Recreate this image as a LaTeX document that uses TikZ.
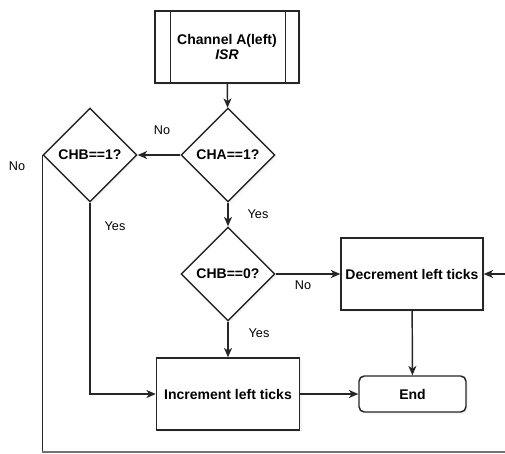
\documentclass[tikz,border=0pt]{standalone}
\usepackage{fontspec}
\setmainfont{Liberation Sans}
\usetikzlibrary{shapes.geometric,arrows.meta,shadows}
\begin{document}
\begin{tikzpicture}[x=0.75pt,y=-0.75pt,
  every node/.style={font=\fontsize{10.5}{12}\selectfont},
  line/.style={draw=black!85,line width=1.1pt},
  flow/.style={line,-{Stealth[length=7pt,width=6pt,inset=2pt]}},
  softshadow/.style={drop shadow={shadow xshift=1.5pt,shadow yshift=-1.5pt,opacity=0.08}},
  procbox/.style={draw=black!85,line width=1.1pt,fill=white,rectangle,inner sep=0pt,
    font=\fontsize{10.5}{12}\selectfont\bfseries,softshadow},
  decision/.style={draw=black!85,line width=1.1pt,fill=white,diamond,inner sep=0pt,
    minimum width=70.5pt,minimum height=70.5pt,font=\fontsize{10.5}{12}\selectfont\bfseries,
    softshadow},
  tag/.style={font=\fontsize{9.5}{11}\selectfont,inner sep=0pt}]
\useasboundingbox (0,0) rectangle (505,453);
\clip (0,0) rectangle (505,453);
\fill[white] (0,0) rectangle (505,453);

% nodes
\node[procbox,minimum width=108pt,minimum height=54pt,align=center] (isr) at (227,47)
  {Channel A(left)\\[-1pt]\textit{ISR}};
\draw[line] ([xshift=12pt]isr.north west) -- ([xshift=12pt]isr.south west);
\draw[line] ([xshift=-10.5pt]isr.north east) -- ([xshift=-10.5pt]isr.south east);

\node[decision] (cha) at (228,155) {CHA==1?};
\node[decision] (chb1) at (90,155) {CHB==1?};
\node[decision] (chb0) at (228,274) {CHB==0?};
\node[procbox,minimum width=106.5pt,minimum height=54pt] (dec) at (412,274) {Decrement left ticks};
\node[procbox,minimum width=107.25pt,minimum height=54pt] (inc) at (228,394) {Increment left ticks};
\node[procbox,rounded corners=4pt,minimum width=80.25pt,minimum height=27pt] (end) at (412.5,394) {End};

% helper points for the outer loop
\coordinate (lb) at (42,452);
\coordinate (rb) at (520,452);
\coordinate (rt) at (520,274);

% connectors
\draw[flow] (isr) -- (cha);
\draw[flow] (cha) -- (chb1);
\draw[flow] (cha) -- (chb0);
\draw[flow] (chb0) -- (dec);
\draw[flow] (chb0) -- (inc);
\draw[flow] (chb1.south) |- (inc.west);
\draw[flow] (inc) -- (end);
\draw[flow] (dec) -- (end);
\draw[line] (chb1.west) -- (chb1.west |- lb);
\draw[line,draw=black!55] (chb1.west |- lb) -- (rb);
\draw[flow] (rb) -- (rt) -- (dec.east);

% branch labels
\node[tag] (n1) at (162,130) {No};
\node[tag] (n2) at (17,166) {No};
\node[tag] (y1) at (115,226) {Yes};
\node[tag] (y2) at (258,214) {Yes};
\node[tag] (n3) at (303,285) {No};
\node[tag] (y3) at (259,333) {Yes};
\end{tikzpicture}
\end{document}
